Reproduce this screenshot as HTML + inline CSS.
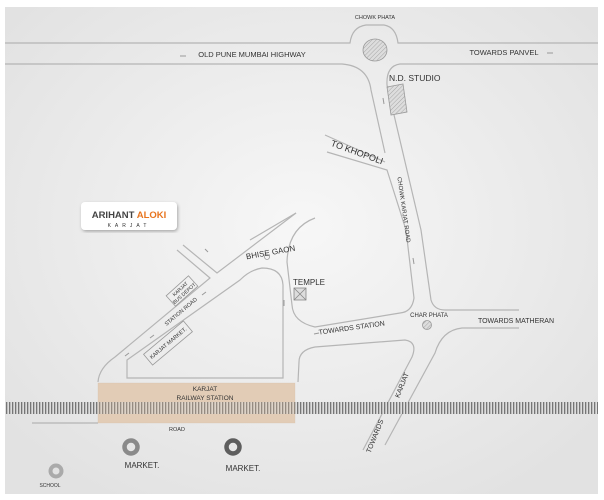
<!DOCTYPE html>
<html><head><meta charset="utf-8"><style>
html,body{margin:0;padding:0;background:#fff;}
svg{display:block;}
text{font-family:"Liberation Sans",sans-serif;fill:#333;}
</style></head><body>
<svg width="604" height="500" viewBox="0 0 604 500" xmlns="http://www.w3.org/2000/svg">
<defs>
<radialGradient id="bg" cx="50%" cy="45%" r="65%">
<stop offset="0" stop-color="#f7f7f7"/><stop offset="1" stop-color="#e2e2e2"/>
</radialGradient>
<pattern id="hatch" width="3" height="3" patternUnits="userSpaceOnUse" patternTransform="rotate(45)">
<rect width="3" height="3" fill="#ddd"/><line x1="0" y1="0" x2="0" y2="3" stroke="#999" stroke-width="0.8"/>
</pattern>
<pattern id="track" width="3" height="12" patternUnits="userSpaceOnUse">
<rect width="3" height="12" fill="#ddd"/><rect width="1.3" height="12" fill="#6a6a6a"/>
</pattern>
<filter id="sh"><feDropShadow dx="1" dy="1.5" stdDeviation="1.5" flood-color="#000" flood-opacity="0.3"/></filter>
</defs>
<rect x="5" y="7" width="593" height="487" fill="url(#bg)"/>
<g fill="none" stroke="#b5b5b5" stroke-width="1.2">
<path d="M5 43 L350 43 Q352 27 366 25 L384 25 Q396 27 398 43 L598 43"/>
<path d="M5 64 L342 64 Q368 66 371 90 L385 153"/>
<path d="M598 64 L400 64 Q386 66 387 85 L421 230 L431 300 Q434 310 445 310 L519 310"/>
<path d="M325 135 L385 162"/>
<path d="M327 152 L387 170 L406 230 L414 298 Q412 312 400 313 L315 327 Q293 322 292 305 L287 262 Q288 228 315 218"/>
<path d="M519 328 L462 328 Q442 330 435 353 L385 445"/>
<path d="M363 450 L412 357 Q418 342 405 340 L315 347 Q299 350 299 362 L298 382"/>
<path d="M98 382 Q99 368 115 357 L210 278 L177 250"/>
<path d="M183 245 L217 273 L296 213"/>
<path d="M250 240 L296 213"/>
<path d="M127 378 L283 378 L283 285 Q282 268 262 268 Q250 270 240 280 L127 360 Z"/>
<path d="M32 423 L98 423"/>
</g>
<g stroke="#999" stroke-width="1">
<line x1="180" y1="56" x2="186" y2="56"/><line x1="547" y1="53" x2="553" y2="53"/>
<line x1="383" y1="98" x2="384" y2="104"/><line x1="413" y1="258" x2="414" y2="264"/>
<line x1="284" y1="300" x2="284" y2="306"/><line x1="205" y1="249" x2="208" y2="252"/>
<line x1="202" y1="295" x2="206" y2="292"/><line x1="150" y1="338" x2="154" y2="335"/>
<line x1="125" y1="356" x2="129" y2="353"/><line x1="314" y1="334" x2="319" y2="333"/>
</g>
<ellipse cx="375" cy="50" rx="12" ry="11" fill="url(#hatch)" stroke="#999" stroke-width="0.8"/>
<polygon points="387,87 403,84 407,112 391,115" fill="url(#hatch)" stroke="#999" stroke-width="0.8"/>
<circle cx="427" cy="325" r="4.5" fill="url(#hatch)" stroke="#999" stroke-width="0.8"/>
<circle cx="267" cy="257" r="2.5" fill="none" stroke="#999" stroke-width="0.8"/>
<g stroke="#888" stroke-width="0.8" fill="#ddd"><rect x="294" y="288" width="12" height="12"/><path d="M294 288 L306 300 M306 288 L294 300"/></g>
<rect x="98" y="383" width="197" height="40" fill="#e6d3c0"/>
<rect x="5" y="402" width="593" height="12" fill="url(#track)" opacity="0.9"/>
<rect x="98" y="383" width="197" height="40" fill="#dcbfa2" opacity="0.3" stroke="#c8a888" stroke-width="0.6"/>
<g transform="translate(182,291) rotate(-42)"><rect x="-15" y="-7" width="30" height="14" fill="none" stroke="#999" stroke-width="0.8"/>
<text x="0" y="-1" font-size="5" text-anchor="middle">KARJAT</text><text x="0" y="5" font-size="5" text-anchor="middle">BUS DEPOT</text></g>
<g transform="translate(168,343) rotate(-40)"><rect x="-26" y="-7" width="52" height="14" fill="none" stroke="#999" stroke-width="0.8"/>
<text x="0" y="2" font-size="5.5" text-anchor="middle">KARJAT MARKET.</text></g>
<circle cx="131" cy="447" r="6.5" fill="none" stroke="#8a8a8a" stroke-width="4.5"/>
<circle cx="233" cy="447" r="6.5" fill="none" stroke="#5e5e5e" stroke-width="4.5"/>
<circle cx="56" cy="471" r="5.5" fill="none" stroke="#aaa" stroke-width="4"/>
<rect x="81" y="202" width="96" height="28" rx="4" fill="#fff" filter="url(#sh)"/>
<text x="129" y="218" font-size="9.5" font-weight="bold" text-anchor="middle"><tspan fill="#444">ARIHANT</tspan><tspan fill="#e8741e"> ALOKI</tspan></text>
<text x="129" y="227" font-size="5" text-anchor="middle" letter-spacing="4" fill="#666">KARJAT</text>
<text x="375" y="19" font-size="5.5" text-anchor="middle">CHOWK PHATA</text>
<text x="252" y="57" font-size="7.5" text-anchor="middle">OLD PUNE MUMBAI HIGHWAY</text>
<text x="504" y="55" font-size="7.5" text-anchor="middle">TOWARDS PANVEL</text>
<text x="389" y="81" font-size="8.5">N.D. STUDIO</text>
<text transform="translate(356,155) rotate(20)" font-size="9" text-anchor="middle">TO KHOPOLI</text>
<text transform="translate(402,210) rotate(82)" font-size="6" text-anchor="middle">CHOWK KARJAT ROAD</text>
<text transform="translate(271,255) rotate(-10)" font-size="8" text-anchor="middle">BHISE GAON</text>
<text x="293" y="285" font-size="8">TEMPLE</text>
<text x="429" y="317" font-size="6" text-anchor="middle">CHAR PHATA</text>
<text x="516" y="323" font-size="7" text-anchor="middle">TOWARDS MATHERAN</text>
<text transform="translate(352,330) rotate(-8)" font-size="7" text-anchor="middle">TOWARDS STATION</text>
<text transform="translate(182,313) rotate(-40)" font-size="5.5" text-anchor="middle">STATION ROAD</text>
<text transform="translate(404,386) rotate(-68)" font-size="7" text-anchor="middle">KARJAT</text>
<text transform="translate(377,437) rotate(-68)" font-size="7" text-anchor="middle">TOWARDS</text>
<text x="205" y="391" font-size="6.5" text-anchor="middle">KARJAT</text>
<text x="205" y="400" font-size="6.5" text-anchor="middle">RAILWAY STATION</text>
<text x="177" y="431" font-size="5.5" text-anchor="middle">ROAD</text>
<text x="142" y="468" font-size="8" text-anchor="middle">MARKET.</text>
<text x="243" y="471" font-size="8" text-anchor="middle">MARKET.</text>
<text x="50" y="487" font-size="5" text-anchor="middle">SCHOOL</text>
</svg>
</body></html>
